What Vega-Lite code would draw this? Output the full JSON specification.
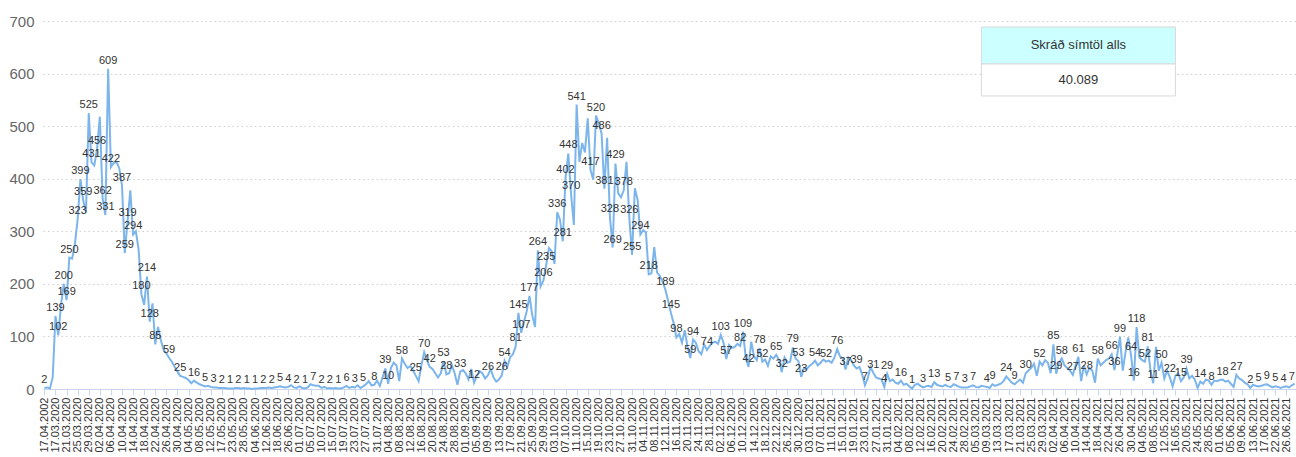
{
"$schema": "https://vega.github.io/schema/vega-lite/v6.json",
"width": 1253,
"height": 368,
"autosize": {"type": "none"},
"padding": {"left": 43, "top": 21, "right": 0, "bottom": 68},
"background": "white",
"config": {"view": {"stroke": null}, "font": "Liberation Sans"},
"datasets": {
"calls": [
{"d":"17.04.2002","v":2,"l":1},{"d":"14.03.2020","v":3},{"d":"15.03.2020","v":1},{"d":"16.03.2020","v":22},
{"d":"17.03.2020","v":139,"l":1},{"d":"18.03.2020","v":102,"l":1},{"d":"19.03.2020","v":160},{"d":"20.03.2020","v":200,"l":1},
{"d":"21.03.2020","v":169,"l":1},{"d":"22.03.2020","v":250,"l":1},{"d":"23.03.2020","v":248},{"d":"24.03.2020","v":275},
{"d":"25.03.2020","v":323,"l":1},{"d":"26.03.2020","v":399,"l":1},{"d":"27.03.2020","v":359,"l":1},{"d":"28.03.2020","v":336},
{"d":"29.03.2020","v":525,"l":1},{"d":"30.03.2020","v":431,"l":1},{"d":"31.03.2020","v":425},{"d":"01.04.2020","v":456,"l":1},
{"d":"02.04.2020","v":518},{"d":"03.04.2020","v":362,"l":1},{"d":"04.04.2020","v":331,"l":1},{"d":"05.04.2020","v":609,"l":1},
{"d":"06.04.2020","v":422,"l":1},{"d":"07.04.2020","v":430},{"d":"08.04.2020","v":432},{"d":"09.04.2020","v":420},
{"d":"10.04.2020","v":387,"l":1},{"d":"11.04.2020","v":259,"l":1},{"d":"12.04.2020","v":319,"l":1},{"d":"13.04.2020","v":378},
{"d":"14.04.2020","v":294,"l":1},{"d":"15.04.2020","v":300},{"d":"16.04.2020","v":265},{"d":"17.04.2020","v":180,"l":1},
{"d":"18.04.2020","v":160},{"d":"19.04.2020","v":214,"l":1},{"d":"20.04.2020","v":128,"l":1},{"d":"21.04.2020","v":163},
{"d":"22.04.2020","v":85,"l":1},{"d":"23.04.2020","v":118},{"d":"24.04.2020","v":93},{"d":"25.04.2020","v":74},
{"d":"26.04.2020","v":68},{"d":"27.04.2020","v":59,"l":1},{"d":"28.04.2020","v":52},{"d":"29.04.2020","v":42},
{"d":"30.04.2020","v":33},{"d":"01.05.2020","v":25,"l":1},{"d":"02.05.2020","v":23},{"d":"03.05.2020","v":21},
{"d":"04.05.2020","v":17},{"d":"05.05.2020","v":11},{"d":"06.05.2020","v":16,"l":1},{"d":"07.05.2020","v":12},
{"d":"08.05.2020","v":9},{"d":"09.05.2020","v":7},{"d":"10.05.2020","v":5,"l":1},{"d":"11.05.2020","v":6},
{"d":"12.05.2020","v":4},{"d":"13.05.2020","v":3,"l":1},{"d":"14.05.2020","v":3},{"d":"15.05.2020","v":2},
{"d":"17.05.2020","v":2,"l":1},{"d":"18.05.2020","v":2},{"d":"19.05.2020","v":1},{"d":"21.05.2020","v":1,"l":1},
{"d":"23.05.2020","v":1},{"d":"24.05.2020","v":2},{"d":"25.05.2020","v":2,"l":1},{"d":"27.05.2020","v":1},
{"d":"28.05.2020","v":2},{"d":"29.05.2020","v":1,"l":1},{"d":"01.06.2020","v":1},{"d":"02.06.2020","v":0},
{"d":"04.06.2020","v":1,"l":1},{"d":"05.06.2020","v":1},{"d":"08.06.2020","v":2},{"d":"10.06.2020","v":2,"l":1},
{"d":"12.06.2020","v":2},{"d":"13.06.2020","v":3},{"d":"15.06.2020","v":2,"l":1},{"d":"16.06.2020","v":3},
{"d":"18.06.2020","v":4},{"d":"19.06.2020","v":5,"l":1},{"d":"22.06.2020","v":4},{"d":"24.06.2020","v":3},
{"d":"26.06.2020","v":4,"l":1},{"d":"27.06.2020","v":7},{"d":"29.06.2020","v":3},{"d":"30.06.2020","v":2,"l":1},
{"d":"01.07.2020","v":5},{"d":"02.07.2020","v":2},{"d":"03.07.2020","v":1,"l":1},{"d":"04.07.2020","v":3},
{"d":"05.07.2020","v":9},{"d":"06.07.2020","v":7,"l":1},{"d":"07.07.2020","v":6},{"d":"08.07.2020","v":6},
{"d":"10.07.2020","v":2,"l":1},{"d":"11.07.2020","v":4},{"d":"13.07.2020","v":1},{"d":"14.07.2020","v":2,"l":1},
{"d":"15.07.2020","v":1},{"d":"16.07.2020","v":2},{"d":"17.07.2020","v":1,"l":1},{"d":"18.07.2020","v":1},
{"d":"19.07.2020","v":3},{"d":"20.07.2020","v":6,"l":1},{"d":"21.07.2020","v":2},{"d":"22.07.2020","v":4},
{"d":"23.07.2020","v":3,"l":1},{"d":"24.07.2020","v":7},{"d":"25.07.2020","v":2},{"d":"26.07.2020","v":5,"l":1},
{"d":"27.07.2020","v":9},{"d":"28.07.2020","v":15},{"d":"29.07.2020","v":7},{"d":"30.07.2020","v":8,"l":1},
{"d":"31.07.2020","v":16},{"d":"01.08.2020","v":6},{"d":"02.08.2020","v":22},{"d":"03.08.2020","v":39,"l":1},
{"d":"04.08.2020","v":10,"l":1},{"d":"05.08.2020","v":40},{"d":"06.08.2020","v":50},{"d":"07.08.2020","v":45},
{"d":"08.08.2020","v":15},{"d":"09.08.2020","v":58,"l":1},{"d":"10.08.2020","v":48},{"d":"11.08.2020","v":40},
{"d":"12.08.2020","v":44},{"d":"13.08.2020","v":35},{"d":"14.08.2020","v":25,"l":1},{"d":"15.08.2020","v":15},
{"d":"16.08.2020","v":45},{"d":"17.08.2020","v":70,"l":1},{"d":"18.08.2020","v":55},{"d":"19.08.2020","v":42,"l":1},
{"d":"20.08.2020","v":38},{"d":"21.08.2020","v":30},{"d":"22.08.2020","v":22},{"d":"23.08.2020","v":30},
{"d":"24.08.2020","v":53,"l":1},{"d":"25.08.2020","v":28,"l":1},{"d":"26.08.2020","v":30},{"d":"27.08.2020","v":45},
{"d":"28.08.2020","v":30},{"d":"29.08.2020","v":8},{"d":"30.08.2020","v":33,"l":1},{"d":"31.08.2020","v":36},
{"d":"01.09.2020","v":30},{"d":"02.09.2020","v":18},{"d":"03.09.2020","v":38},{"d":"04.09.2020","v":12,"l":1},
{"d":"05.09.2020","v":25},{"d":"06.09.2020","v":34},{"d":"07.09.2020","v":30},{"d":"08.09.2020","v":20},
{"d":"09.09.2020","v":26,"l":1},{"d":"10.09.2020","v":38},{"d":"11.09.2020","v":22},{"d":"12.09.2020","v":14},
{"d":"13.09.2020","v":18},{"d":"14.09.2020","v":26,"l":1},{"d":"15.09.2020","v":54,"l":1},{"d":"16.09.2020","v":42},
{"d":"17.09.2020","v":60},{"d":"18.09.2020","v":66},{"d":"19.09.2020","v":81,"l":1},{"d":"20.09.2020","v":145,"l":1},
{"d":"21.09.2020","v":107,"l":1},{"d":"22.09.2020","v":128},{"d":"23.09.2020","v":148},{"d":"24.09.2020","v":177,"l":1},
{"d":"25.09.2020","v":140},{"d":"26.09.2020","v":118},{"d":"27.09.2020","v":264,"l":1},{"d":"28.09.2020","v":195},
{"d":"29.09.2020","v":206,"l":1},{"d":"30.09.2020","v":235,"l":1},{"d":"01.10.2020","v":268},{"d":"02.10.2020","v":262},
{"d":"03.10.2020","v":238},{"d":"04.10.2020","v":336,"l":1},{"d":"05.10.2020","v":322},{"d":"06.10.2020","v":281,"l":1},
{"d":"07.10.2020","v":402,"l":1},{"d":"08.10.2020","v":448,"l":1},{"d":"09.10.2020","v":370,"l":1},{"d":"10.10.2020","v":312},
{"d":"11.10.2020","v":541,"l":1},{"d":"12.10.2020","v":432},{"d":"13.10.2020","v":468},{"d":"14.10.2020","v":450},
{"d":"15.10.2020","v":515},{"d":"16.10.2020","v":417,"l":1},{"d":"17.10.2020","v":398},{"d":"18.10.2020","v":520,"l":1},
{"d":"19.10.2020","v":505},{"d":"20.10.2020","v":486,"l":1},{"d":"21.10.2020","v":381,"l":1},{"d":"22.10.2020","v":478},
{"d":"23.10.2020","v":328,"l":1},{"d":"24.10.2020","v":269,"l":1},{"d":"25.10.2020","v":429,"l":1},{"d":"26.10.2020","v":372},
{"d":"27.10.2020","v":365},{"d":"28.10.2020","v":378,"l":1},{"d":"29.10.2020","v":432},{"d":"30.10.2020","v":326,"l":1},
{"d":"31.10.2020","v":255,"l":1},{"d":"01.11.2020","v":382},{"d":"02.11.2020","v":360},{"d":"03.11.2020","v":294,"l":1},
{"d":"04.11.2020","v":302},{"d":"05.11.2020","v":298},{"d":"06.11.2020","v":218,"l":1},{"d":"07.11.2020","v":220},
{"d":"08.11.2020","v":270},{"d":"09.11.2020","v":222},{"d":"10.11.2020","v":215},{"d":"11.11.2020","v":205},
{"d":"12.11.2020","v":189,"l":1},{"d":"13.11.2020","v":168},{"d":"14.11.2020","v":145,"l":1},{"d":"15.11.2020","v":125},
{"d":"16.11.2020","v":98,"l":1},{"d":"17.11.2020","v":105},{"d":"18.11.2020","v":88},{"d":"19.11.2020","v":112},
{"d":"20.11.2020","v":80},{"d":"21.11.2020","v":59,"l":1},{"d":"22.11.2020","v":94,"l":1},{"d":"23.11.2020","v":88},
{"d":"24.11.2020","v":72},{"d":"25.11.2020","v":66},{"d":"26.11.2020","v":85},{"d":"27.11.2020","v":74,"l":1},
{"d":"28.11.2020","v":82},{"d":"29.11.2020","v":88},{"d":"30.11.2020","v":90},{"d":"01.12.2020","v":86},
{"d":"02.12.2020","v":103,"l":1},{"d":"03.12.2020","v":88},{"d":"04.12.2020","v":57,"l":1},{"d":"05.12.2020","v":84},
{"d":"06.12.2020","v":78},{"d":"07.12.2020","v":80},{"d":"08.12.2020","v":86},{"d":"09.12.2020","v":82,"l":1},
{"d":"10.12.2020","v":109,"l":1},{"d":"11.12.2020","v":60},{"d":"12.12.2020","v":42,"l":1},{"d":"13.12.2020","v":90},
{"d":"14.12.2020","v":62},{"d":"15.12.2020","v":55},{"d":"16.12.2020","v":78,"l":1},{"d":"17.12.2020","v":52,"l":1},
{"d":"18.12.2020","v":56},{"d":"19.12.2020","v":44},{"d":"20.12.2020","v":62},{"d":"21.12.2020","v":58},
{"d":"22.12.2020","v":65,"l":1},{"d":"23.12.2020","v":55},{"d":"24.12.2020","v":32,"l":1},{"d":"25.12.2020","v":60},
{"d":"26.12.2020","v":50},{"d":"27.12.2020","v":52},{"d":"28.12.2020","v":79,"l":1},{"d":"29.12.2020","v":58},
{"d":"30.12.2020","v":53,"l":1},{"d":"31.12.2020","v":23,"l":1},{"d":"01.01.2021","v":40},{"d":"02.01.2021","v":38},
{"d":"03.01.2021","v":44},{"d":"04.01.2021","v":48},{"d":"05.01.2021","v":54,"l":1},{"d":"06.01.2021","v":45},
{"d":"07.01.2021","v":50},{"d":"08.01.2021","v":56},{"d":"09.01.2021","v":52,"l":1},{"d":"10.01.2021","v":54},
{"d":"11.01.2021","v":50},{"d":"12.01.2021","v":60},{"d":"13.01.2021","v":76,"l":1},{"d":"14.01.2021","v":62},
{"d":"15.01.2021","v":58},{"d":"16.01.2021","v":37,"l":1},{"d":"17.01.2021","v":60},{"d":"18.01.2021","v":55},
{"d":"19.01.2021","v":45},{"d":"20.01.2021","v":39,"l":1},{"d":"21.01.2021","v":42},{"d":"22.01.2021","v":28},
{"d":"23.01.2021","v":7,"l":1},{"d":"24.01.2021","v":20},{"d":"25.01.2021","v":42},{"d":"26.01.2021","v":31,"l":1},
{"d":"27.01.2021","v":22},{"d":"28.01.2021","v":20},{"d":"29.01.2021","v":18},{"d":"30.01.2021","v":4,"l":1},
{"d":"31.01.2021","v":29,"l":1},{"d":"01.02.2021","v":15},{"d":"02.02.2021","v":18},{"d":"03.02.2021","v":12},
{"d":"04.02.2021","v":10},{"d":"05.02.2021","v":16,"l":1},{"d":"06.02.2021","v":8},{"d":"07.02.2021","v":10},
{"d":"08.02.2021","v":5},{"d":"09.02.2021","v":1,"l":1},{"d":"10.02.2021","v":8},{"d":"11.02.2021","v":10},
{"d":"12.02.2021","v":6},{"d":"13.02.2021","v":3,"l":1},{"d":"14.02.2021","v":5},{"d":"15.02.2021","v":6},
{"d":"16.02.2021","v":4},{"d":"17.02.2021","v":13,"l":1},{"d":"18.02.2021","v":8},{"d":"19.02.2021","v":6},
{"d":"20.02.2021","v":5},{"d":"21.02.2021","v":8},{"d":"22.02.2021","v":5,"l":1},{"d":"23.02.2021","v":4},
{"d":"24.02.2021","v":9},{"d":"25.02.2021","v":7,"l":1},{"d":"26.02.2021","v":4},{"d":"27.02.2021","v":3},
{"d":"28.02.2021","v":3,"l":1},{"d":"01.03.2021","v":3},{"d":"02.03.2021","v":5},{"d":"04.03.2021","v":7,"l":1},
{"d":"05.03.2021","v":4},{"d":"06.03.2021","v":3},{"d":"07.03.2021","v":6},{"d":"08.03.2021","v":5},
{"d":"09.03.2021","v":4,"l":1},{"d":"10.03.2021","v":2},{"d":"11.03.2021","v":9,"l":1},{"d":"12.03.2021","v":6},
{"d":"13.03.2021","v":8},{"d":"14.03.2021","v":10},{"d":"15.03.2021","v":15},{"d":"16.03.2021","v":24,"l":1},
{"d":"17.03.2021","v":18},{"d":"18.03.2021","v":12},{"d":"19.03.2021","v":9,"l":1},{"d":"20.03.2021","v":14},
{"d":"21.03.2021","v":18},{"d":"22.03.2021","v":12},{"d":"23.03.2021","v":30,"l":1},{"d":"24.03.2021","v":35},
{"d":"25.03.2021","v":40},{"d":"26.03.2021","v":48},{"d":"27.03.2021","v":25},{"d":"28.03.2021","v":52,"l":1},
{"d":"29.03.2021","v":45},{"d":"30.03.2021","v":55},{"d":"31.03.2021","v":50},{"d":"01.04.2021","v":30},
{"d":"02.04.2021","v":85,"l":1},{"d":"03.04.2021","v":29,"l":1},{"d":"04.04.2021","v":50},{"d":"05.04.2021","v":58,"l":1},
{"d":"06.04.2021","v":45},{"d":"07.04.2021","v":40},{"d":"08.04.2021","v":35},{"d":"09.04.2021","v":27,"l":1},
{"d":"10.04.2021","v":45},{"d":"11.04.2021","v":61,"l":1},{"d":"12.04.2021","v":15},{"d":"13.04.2021","v":45},
{"d":"14.04.2021","v":28,"l":1},{"d":"15.04.2021","v":40},{"d":"16.04.2021","v":35},{"d":"17.04.2021","v":12},
{"d":"18.04.2021","v":58,"l":1},{"d":"19.04.2021","v":45},{"d":"20.04.2021","v":50},{"d":"21.04.2021","v":55},
{"d":"22.04.2021","v":58},{"d":"23.04.2021","v":66,"l":1},{"d":"24.04.2021","v":36,"l":1},{"d":"25.04.2021","v":65},
{"d":"26.04.2021","v":99,"l":1},{"d":"27.04.2021","v":35},{"d":"28.04.2021","v":70},{"d":"29.04.2021","v":98},
{"d":"30.04.2021","v":64,"l":1},{"d":"01.05.2021","v":16,"l":1},{"d":"02.05.2021","v":118,"l":1},{"d":"03.05.2021","v":60},
{"d":"04.05.2021","v":55},{"d":"05.05.2021","v":52,"l":1},{"d":"06.05.2021","v":81,"l":1},{"d":"07.05.2021","v":35},
{"d":"08.05.2021","v":11,"l":1},{"d":"09.05.2021","v":80},{"d":"10.05.2021","v":35},{"d":"11.05.2021","v":50,"l":1},
{"d":"12.05.2021","v":20},{"d":"13.05.2021","v":35},{"d":"14.05.2021","v":22,"l":1},{"d":"15.05.2021","v":5},
{"d":"16.05.2021","v":25},{"d":"17.05.2021","v":30},{"d":"18.05.2021","v":15,"l":1},{"d":"19.05.2021","v":22},
{"d":"20.05.2021","v":39,"l":1},{"d":"21.05.2021","v":20},{"d":"22.05.2021","v":25},{"d":"23.05.2021","v":18},
{"d":"24.05.2021","v":2},{"d":"25.05.2021","v":14,"l":1},{"d":"26.05.2021","v":10},{"d":"27.05.2021","v":18},
{"d":"28.05.2021","v":16},{"d":"29.05.2021","v":8,"l":1},{"d":"30.05.2021","v":16},{"d":"31.05.2021","v":15},
{"d":"01.06.2021","v":17},{"d":"02.06.2021","v":18,"l":1},{"d":"03.06.2021","v":14},{"d":"04.06.2021","v":16},
{"d":"05.06.2021","v":10},{"d":"06.06.2021","v":4},{"d":"07.06.2021","v":27,"l":1},{"d":"08.06.2021","v":20},
{"d":"09.06.2021","v":17},{"d":"10.06.2021","v":12},{"d":"11.06.2021","v":9},{"d":"12.06.2021","v":2,"l":1},
{"d":"13.06.2021","v":8},{"d":"14.06.2021","v":6},{"d":"15.06.2021","v":5,"l":1},{"d":"16.06.2021","v":6},
{"d":"17.06.2021","v":8},{"d":"18.06.2021","v":9,"l":1},{"d":"19.06.2021","v":6},{"d":"21.06.2021","v":3},
{"d":"22.06.2021","v":5,"l":1},{"d":"23.06.2021","v":4},{"d":"24.06.2021","v":2},{"d":"25.06.2021","v":4,"l":1},
{"d":"26.06.2021","v":5},{"d":"27.06.2021","v":3},{"d":"28.06.2021","v":7,"l":1},{"d":"29.06.2021","v":10}
]
},
"layer": [
{
"data": {"name": "calls"},
"encoding": {
"x": {"field": "d", "type": "ordinal", "sort": null, "scale": {"type": "point", "padding": 0.5},
"axis": {"title": null, "values": ["17.04.2002","17.03.2020","21.03.2020","25.03.2020","29.03.2020","02.04.2020","06.04.2020","10.04.2020","14.04.2020","18.04.2020","22.04.2020","26.04.2020","30.04.2020","04.05.2020","08.05.2020","12.05.2020","17.05.2020","23.05.2020","28.05.2020","04.06.2020","12.06.2020","18.06.2020","26.06.2020","01.07.2020","05.07.2020","10.07.2020","15.07.2020","19.07.2020","23.07.2020","27.07.2020","31.07.2020","04.08.2020","08.08.2020","12.08.2020","16.08.2020","20.08.2020","24.08.2020","28.08.2020","01.09.2020","05.09.2020","09.09.2020","13.09.2020","17.09.2020","21.09.2020","25.09.2020","29.09.2020","03.10.2020","07.10.2020","11.10.2020","15.10.2020","19.10.2020","23.10.2020","27.10.2020","31.10.2020","04.11.2020","08.11.2020","12.11.2020","16.11.2020","20.11.2020","24.11.2020","28.11.2020","02.12.2020","06.12.2020","10.12.2020","14.12.2020","18.12.2020","22.12.2020","26.12.2020","30.12.2020","03.01.2021","07.01.2021","11.01.2021","15.01.2021","19.01.2021","23.01.2021","27.01.2021","31.01.2021","04.02.2021","08.02.2021","12.02.2021","16.02.2021","20.02.2021","24.02.2021","28.02.2021","05.03.2021","09.03.2021","13.03.2021","17.03.2021","21.03.2021","25.03.2021","29.03.2021","02.04.2021","06.04.2021","10.04.2021","14.04.2021","18.04.2021","22.04.2021","26.04.2021","30.04.2021","04.05.2021","08.05.2021","12.05.2021","16.05.2021","20.05.2021","24.05.2021","28.05.2021","01.06.2021","05.06.2021","09.06.2021","13.06.2021","17.06.2021","22.06.2021","26.06.2021"],
"labelAngle": -90, "labelFontSize": 11, "labelColor": "#333333", "labelFont": "Liberation Sans", "labelOverlap": false, "labelPadding": 2, "tickSize": 6, "tickColor": "#ccd6eb", "domainColor": "#ccd6eb", "grid": false}},
"y": {"field": "v", "type": "quantitative", "scale": {"domain": [0, 700], "nice": false, "zero": true},
"axis": {"title": null, "values": [0,100,200,300,400,500,600,700], "grid": true, "gridColor": "#cfcfcf", "gridDash": [1.5, 3], "domain": false, "ticks": false, "labelFontSize": 15, "labelColor": "#666666", "labelFont": "Liberation Sans", "labelPadding": 9}}
},
"layer": [
{"mark": {"type": "line", "color": "#7cb5ec", "strokeWidth": 2, "interpolate": "linear"}},
{"mark": {"type": "text", "fontSize": 11, "color": "#333333", "baseline": "alphabetic", "dy": -5, "font": "Liberation Sans"},
"encoding": {"text": {"condition": {"test": "datum.l == 1", "field": "v", "type": "nominal"}, "value": ""}}}
]
},
{
"data": {"values": [{}]},
"layer": [
{"mark": {"type": "rect", "fill": "#ccffff", "stroke": "#d9d9d9", "strokeWidth": 1},
"encoding": {
"x": {"datum": 338, "type": "quantitative", "scale": {"domain": [-0.5, 451.5], "nice": false, "zero": false}, "axis": null},
"x2": {"datum": 408},
"y": {"datum": 688.6, "type": "quantitative", "scale": {"domain": [0, 700], "nice": false}, "axis": null},
"y2": {"datum": 618.2}}},
{"mark": {"type": "rect", "fill": "#ffffff", "stroke": "#d9d9d9", "strokeWidth": 1},
"encoding": {
"x": {"datum": 338, "type": "quantitative", "scale": {"domain": [-0.5, 451.5], "nice": false, "zero": false}, "axis": null},
"x2": {"datum": 408},
"y": {"datum": 618.2, "type": "quantitative", "scale": {"domain": [0, 700], "nice": false}, "axis": null},
"y2": {"datum": 557.4}}},
{"mark": {"type": "text", "fontSize": 13, "color": "#333333", "font": "Liberation Sans", "align": "center", "baseline": "middle"},
"encoding": {
"x": {"datum": 373, "type": "quantitative", "scale": {"domain": [-0.5, 451.5], "nice": false, "zero": false}, "axis": null},
"y": {"datum": 653.4, "type": "quantitative", "scale": {"domain": [0, 700], "nice": false}, "axis": null},
"text": {"value": "Skráð símtöl alls"}}},
{"mark": {"type": "text", "fontSize": 13, "color": "#333333", "font": "Liberation Sans", "align": "center", "baseline": "middle"},
"encoding": {
"x": {"datum": 373, "type": "quantitative", "scale": {"domain": [-0.5, 451.5], "nice": false, "zero": false}, "axis": null},
"y": {"datum": 587.8, "type": "quantitative", "scale": {"domain": [0, 700], "nice": false}, "axis": null},
"text": {"value": "40.089"}}}
]
}
],
"resolve": {"scale": {"x": "independent", "y": "independent"}}
}
